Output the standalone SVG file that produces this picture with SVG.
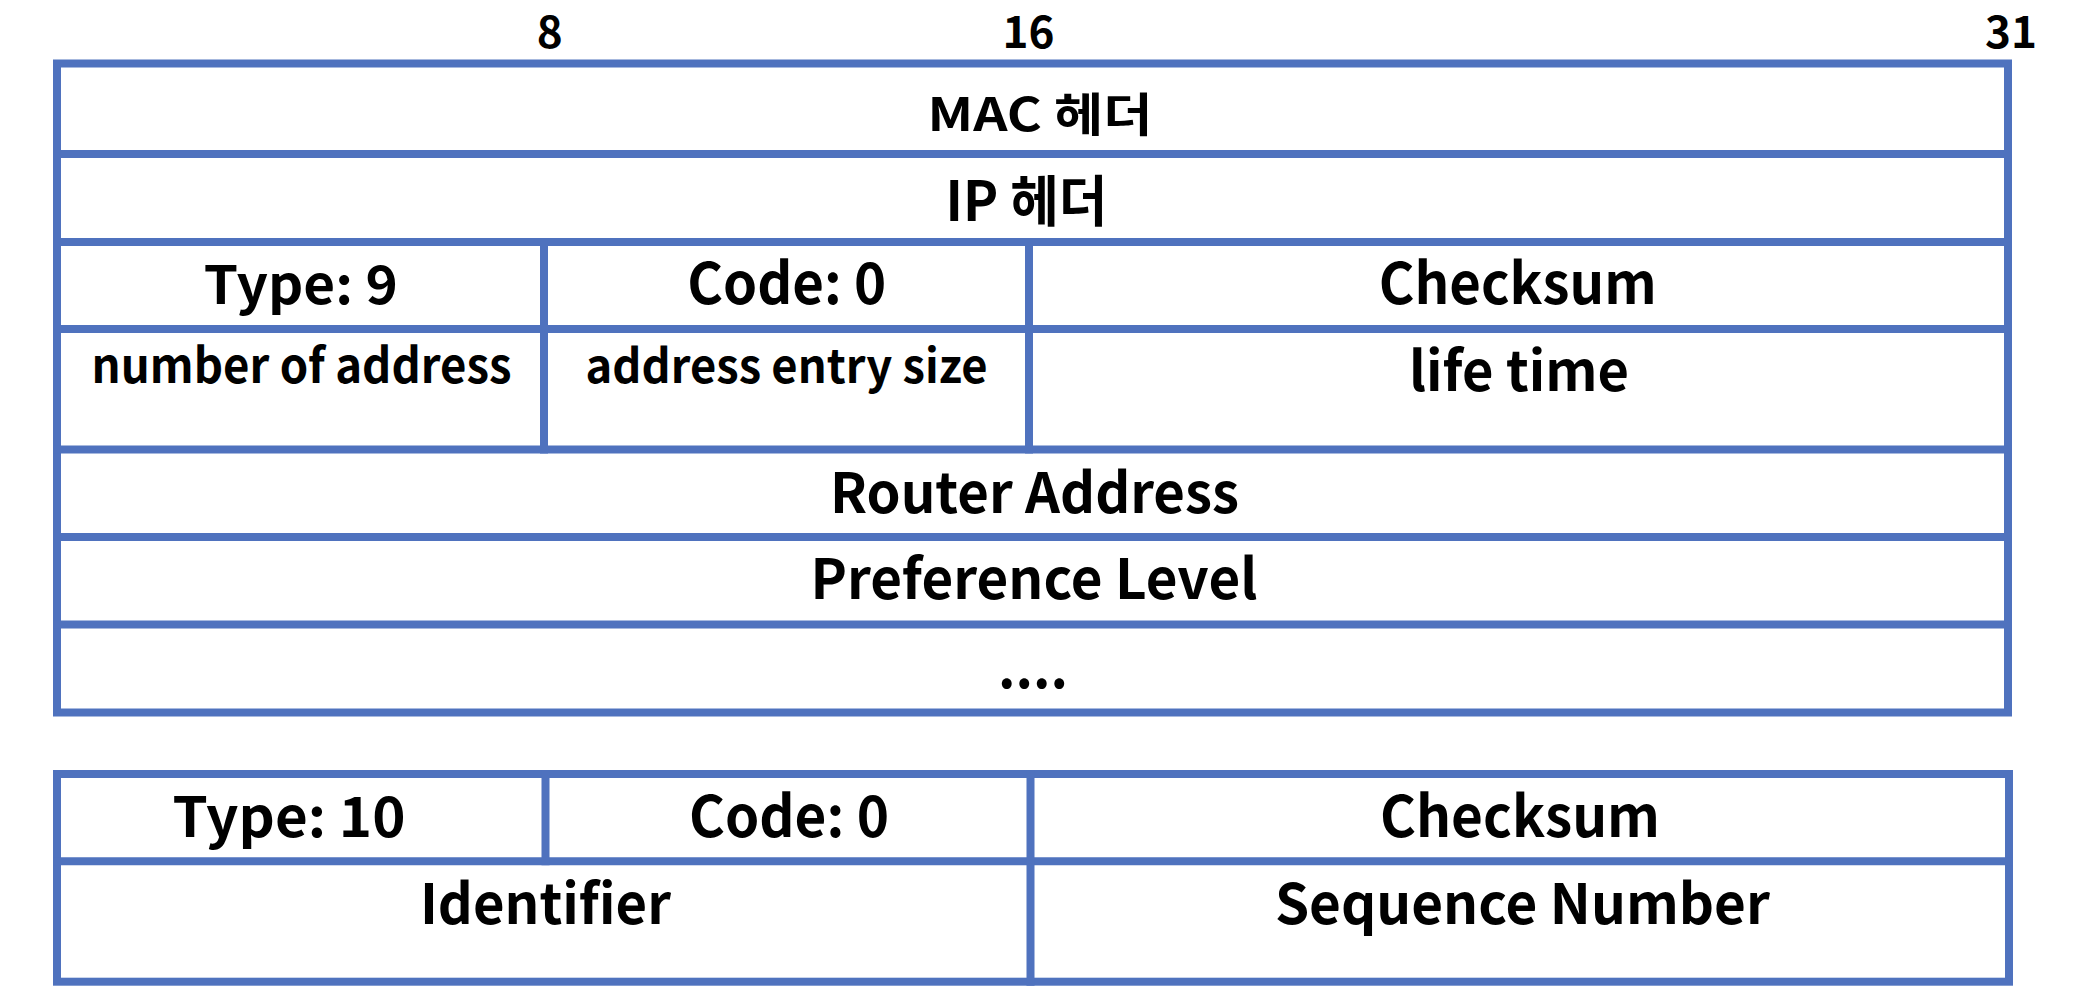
<svg xmlns="http://www.w3.org/2000/svg" width="2096" height="1002" viewBox="0 0 2096 1002">
<style>
.ln{stroke:#4F72BE;stroke-width:8;fill:none;stroke-linecap:square}
.t{font-family:"Noto Sans CJK KR","Noto Sans",sans-serif;font-weight:bold;fill:#000;text-anchor:middle}
.bit{font-size:44px}
</style>
<rect width="2096" height="1002" fill="#fff"/>
<g id="bit-labels">
<text class="t bit" x="549.7" y="48">8</text>
<text class="t bit" x="1028.4" y="48">16</text>
<text class="t bit" x="2011" y="48">31</text>
</g>
<g id="grid">
<rect class="ln" x="57" y="63.5" width="1951" height="649"/>
<line class="ln" x1="57" y1="154" x2="2008" y2="154"/>
<line class="ln" x1="57" y1="242" x2="2008" y2="242"/>
<line class="ln" x1="57" y1="329" x2="2008" y2="329"/>
<line class="ln" x1="57" y1="449.5" x2="2008" y2="449.5"/>
<line class="ln" x1="57" y1="537" x2="2008" y2="537"/>
<line class="ln" x1="57" y1="624.5" x2="2008" y2="624.5"/>
<line class="ln" x1="544" y1="242" x2="544" y2="449.5"/>
<line class="ln" x1="1029" y1="242" x2="1029" y2="449.5"/>
<rect class="ln" x="57" y="774" width="1952" height="207.7"/>
<line class="ln" x1="57" y1="861.3" x2="2009" y2="861.3"/>
<line class="ln" x1="545.5" y1="774" x2="545.5" y2="861.3"/>
<line class="ln" x1="1030.5" y1="774" x2="1030.5" y2="981.7"/>
</g>
<g id="mac-header"><text class="t" x="1040" y="131" font-size="46" textLength="225" lengthAdjust="spacingAndGlyphs">MAC 헤더</text></g>
<g id="ip-header"><text class="t" x="1026.5" y="220.7" font-size="55" textLength="162" lengthAdjust="spacingAndGlyphs">IP 헤더</text></g>
<g id="type9"><text class="t" x="300.8" y="304" font-size="53" textLength="194" lengthAdjust="spacingAndGlyphs">Type: 9</text></g>
<g id="code0-a"><text class="t" x="786.8" y="304" font-size="57" textLength="199" lengthAdjust="spacingAndGlyphs">Code: 0</text></g>
<g id="checksum-a"><text class="t" x="1517.7" y="304" font-size="57" textLength="278" lengthAdjust="spacingAndGlyphs">Checksum</text></g>
<g id="num-addr"><text class="t" x="301.6" y="383.3" font-size="48" textLength="420" lengthAdjust="spacingAndGlyphs">number of address</text></g>
<g id="addr-entry"><text class="t" x="786.6" y="382.7" font-size="47" textLength="402" lengthAdjust="spacingAndGlyphs">address entry size</text></g>
<g id="lifetime"><text class="t" x="1519" y="391" font-size="55" textLength="220" lengthAdjust="spacingAndGlyphs">life time</text></g>
<g id="router-addr"><text class="t" x="1034.5" y="512.7" font-size="56" textLength="409" lengthAdjust="spacingAndGlyphs">Router Address</text></g>
<g id="pref-level"><text class="t" x="1034" y="599.3" font-size="56" textLength="447" lengthAdjust="spacingAndGlyphs">Preference Level</text></g>
<g id="ellipsis"><text class="t" x="1033" y="688" font-size="56" textLength="70" lengthAdjust="spacingAndGlyphs">....</text></g>
<g id="type10"><text class="t" x="289" y="837.3" font-size="55" textLength="233" lengthAdjust="spacingAndGlyphs">Type: 10</text></g>
<g id="code0-b"><text class="t" x="789" y="837.3" font-size="57" textLength="200" lengthAdjust="spacingAndGlyphs">Code: 0</text></g>
<g id="checksum-b"><text class="t" x="1520" y="837.3" font-size="57" textLength="280" lengthAdjust="spacingAndGlyphs">Checksum</text></g>
<g id="identifier"><text class="t" x="545.4" y="924.3" font-size="56" textLength="251" lengthAdjust="spacingAndGlyphs">Identifier</text></g>
<g id="seq-num"><text class="t" x="1522.4" y="924.3" font-size="56" textLength="495" lengthAdjust="spacingAndGlyphs">Sequence Number</text></g>
</svg>
